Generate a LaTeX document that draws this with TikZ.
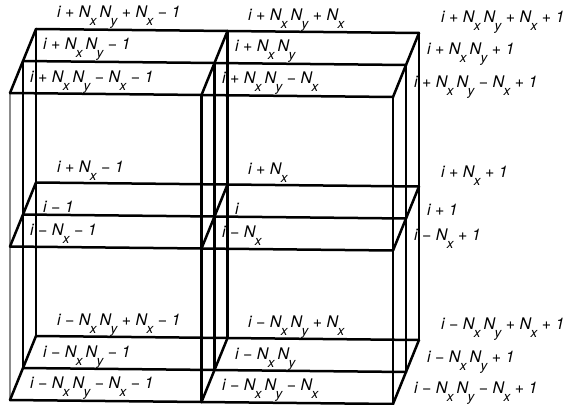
\documentclass[tikz,border=0pt]{standalone}
\usepackage{fontspec}
\setmainfont{TeX Gyre Heros}
\usepackage{tikz}
\newcommand{\Nx}{N\kern-0.5pt\raisebox{-8pt}{\fontsize{13.5}{14}\selectfont x}}
\newcommand{\Ny}{N\kern-0.5pt\raisebox{-8pt}{\fontsize{13.5}{14}\selectfont y}}
\newcommand{\NN}{\Nx\kern3pt\Ny}
\newcommand{\mns}{\ \char"2212\ }
\newcommand{\pls}{\ +\ }
\begin{document}
\begin{tikzpicture}[x=1pt,y=-1pt,font=\fontsize{16}{18}\selectfont\itshape]
        \tikzstyle{lbl}=[anchor=base west,inner sep=0pt,outer sep=0pt]
        \tikzstyle{edge}=[line width=2.5pt,line cap=round,line join=round]
        \tikzstyle{edgethin}=[line width=2pt,line cap=round]
        \tikzstyle{edgegray}=[line width=1.2pt,draw=black!45]
        \useasboundingbox (0,0) rectangle (567,404);
        % Lattice points: column, depth, level
        \foreach \c in {0,1,2}
          \foreach \d in {0,1,2}
            \foreach \l in {0,1,2} {
              \pgfmathsetmacro{\px}{36+191.5*\c-13*\d}
              \pgfmathsetmacro{\py}{29+2*\c+32*\d+153.5*\l}
              \coordinate (p\c\d\l) at (\px,\py);
            }
        % Verticals
        \draw[edgegray] (p020) -- (p022);
        \foreach \c/\d in {0/0,0/1,1/0,1/1,1/2,2/2}
          \draw[edge] (p\c\d0) -- (p\c\d2);
        \foreach \d in {0,1}
          \draw[edgethin] (p2\d0) -- (p2\d2);
        % Horizontals and slanted edges
        \foreach \l in {0,1,2} {
          \foreach \d in {0,1,2}
            \draw[edge] (p0\d\l) -- (p2\d\l);
          \foreach \c in {0,1,2}
            \draw[edge] (p\c0\l) -- (p\c2\l);
        }
        % Top level
        \node[lbl] (t00) at (57,18) {i\pls\NN\pls\Nx\mns 1};
        \node[lbl] (t10) at (248,21) {i\pls\NN\pls\Nx};
        \node[lbl] (t20) at (441,23) {i\pls\NN\pls\Nx\pls 1};
        \node[lbl] (t01) at (43,50) {i\pls\NN\mns 1};
        \node[lbl] (t11) at (235,52) {i\pls\NN};
        \node[lbl] (t21) at (427,55) {i\pls\NN\pls 1};
        \node[lbl] (t02) at (30,82) {i\pls\NN\mns\Nx\mns 1};
        \node[lbl] (t12) at (222,83) {i\pls\NN\mns\Nx};
        \node[lbl] (t22) at (414,87) {i\pls\NN\mns\Nx\pls 1};
        % Middle level
        \node[lbl] (m00) at (57,172) {i\pls\Nx\mns 1};
        \node[lbl] (m10) at (248,174) {i\pls\Nx};
        \node[lbl] (m20) at (441,177) {i\pls\Nx\pls 1};
        \node[lbl] (m01) at (43,212) {i\mns 1};
        \node[lbl] (m11) at (235,214) {i};
        \node[lbl] (m21) at (427,215) {i\pls 1};
        \node[lbl] (m02) at (30,235) {i\mns\Nx\mns 1};
        \node[lbl] (m12) at (222,237) {i\mns\Nx};
        \node[lbl] (m22) at (414,240) {i\mns\Nx\pls 1};
        % Bottom level
        \node[lbl] (b00) at (57,325) {i\mns\NN\pls\Nx\mns 1};
        \node[lbl] (b10) at (248,327) {i\mns\NN\pls\Nx};
        \node[lbl] (b20) at (441,329) {i\mns\NN\pls\Nx\pls 1};
        \node[lbl] (b01) at (43,357) {i\mns\NN\mns 1};
        \node[lbl] (b11) at (235,359) {i\mns\NN};
        \node[lbl] (b21) at (427,362) {i\mns\NN\pls 1};
        \node[lbl] (b02) at (30,388) {i\mns\NN\mns\Nx\mns 1};
        \node[lbl] (b12) at (222,390) {i\mns\NN\mns\Nx};
        \node[lbl] (b22) at (414,393) {i\mns\NN\mns\Nx\pls 1};
      \end{tikzpicture}
\end{document}
